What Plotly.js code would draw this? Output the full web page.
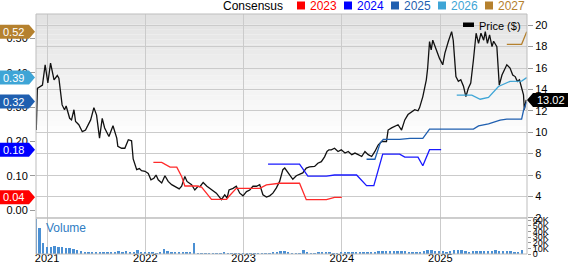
<!DOCTYPE html>
<html><head><meta charset="utf-8">
<script src="https://cdn.plot.ly/plotly-3.0.1.min.js"></script>
<style>html,body{margin:0;padding:0;background:#fff;}#chart{width:568px;height:264px;}</style>
</head><body><div id="chart"></div>
<script>
// ---------- DATA ----------
const priceDates = ['2020-11-22','2020-11-26','2020-12-15','2020-12-25','2021-01-04','2021-01-14','2021-01-27','2021-02-08','2021-02-14','2021-02-26','2021-03-07','2021-03-13','2021-03-26','2021-04-02','2021-04-11','2021-04-17','2021-04-29','2021-05-12','2021-05-24','2021-06-12','2021-06-24','2021-07-04','2021-07-15','2021-07-25','2021-08-03','2021-08-10','2021-08-19','2021-09-03','2021-09-17','2021-09-21','2021-10-05','2021-10-17','2021-10-30','2021-11-11','2021-11-17','2021-11-30','2021-12-10','2021-12-18','2021-12-31','2022-01-12','2022-01-22','2022-02-02','2022-02-10','2022-02-18','2022-03-03','2022-03-15','2022-03-27','2022-04-09','2022-04-21','2022-05-07','2022-05-16','2022-05-28','2022-06-05','2022-06-22','2022-07-04','2022-07-16','2022-07-23','2022-08-04','2022-08-18','2022-09-04','2022-09-22','2022-10-11','2022-10-23','2022-11-01','2022-11-08','2022-11-23','2022-12-05','2022-12-18','2022-12-30','2023-01-12','2023-01-24','2023-02-05','2023-02-18','2023-03-02','2023-03-14','2023-03-27','2023-04-08','2023-04-20','2023-05-03','2023-05-15','2023-05-27','2023-06-03','2023-06-15','2023-07-03','2023-07-16','2023-07-28','2023-08-09','2023-08-22','2023-09-03','2023-09-22','2023-10-04','2023-10-17','2023-10-29','2023-11-07','2023-11-14','2023-11-23','2023-12-05','2023-12-18','2023-12-30','2024-01-13','2024-01-25','2024-02-07','2024-02-19','2024-03-02','2024-03-15','2024-03-27','2024-04-08','2024-04-21','2024-05-03','2024-05-15','2024-05-28','2024-06-15','2024-06-21','2024-07-04','2024-07-16','2024-07-28','2024-08-10','2024-08-22','2024-09-03','2024-09-16','2024-09-28','2024-10-10','2024-10-16','2024-10-28','2024-11-10','2024-11-15','2024-11-22','2024-11-28','2024-12-04','2024-12-17','2024-12-29','2025-01-10','2025-01-18','2025-01-31','2025-02-12','2025-02-18','2025-02-28','2025-03-09','2025-03-18','2025-03-28','2025-04-06','2025-04-15','2025-04-24','2025-05-04','2025-05-14','2025-05-23','2025-06-01','2025-06-11','2025-06-17','2025-06-25','2025-07-03','2025-07-12','2025-07-18','2025-07-30','2025-08-08','2025-08-18','2025-08-26','2025-09-05','2025-09-17','2025-09-27','2025-10-06','2025-10-14','2025-10-22','2025-10-28','2025-11-06','2025-11-09','2025-11-16'];
const priceValues = [10.2,14.1,14.4,16.3,14.6,16.45,14.9,15.3,15.05,12.55,12.1,12.45,11.3,11.15,12.1,11.0,10.7,10.05,10.2,11.15,12.3,11.6,9.45,11.3,10.4,10.05,9.6,10.6,9.45,8.67,8.5,8.5,9.3,9.2,7.5,6.5,6.6,6.4,6.35,6.15,5.55,5.7,6.0,5.55,5.25,5.93,5.4,5.1,4.95,4.7,4.95,5.87,5.4,5.1,4.6,4.95,4.9,5.3,4.95,4.6,4.3,3.7,4.15,3.85,4.6,4.75,4.95,4.3,4.05,4.45,4.6,4.95,4.95,5.1,4.15,3.93,4.05,4.3,4.8,5.4,6.5,6.65,6.2,5.6,5.93,6.1,6.2,6.65,6.75,6.8,7.1,7.25,7.7,8.2,8.35,8.35,8.5,8.2,8.35,8.05,8.2,7.9,8.05,7.9,7.73,8.2,7.9,7.73,8.2,8.8,9.13,9.13,10.2,10.4,10.55,10.7,10.2,11.15,11.65,11.9,12.1,12.0,12.3,13.33,14.9,16.0,18.47,17.7,18.6,17.7,16.9,16.3,17.4,18.5,19.4,18.6,15.2,14.75,14.9,14.3,13.33,14.1,14.6,16.75,19.25,18.3,19.25,18.6,19.4,18.3,19.1,18.0,18.5,18.0,14.4,15.35,15.8,16.3,16.0,15.35,15.2,14.75,14.9,14.4,13.5,12.1,13.02];

const eps2023Dates = ['2022-01-31','2022-03-03','2022-04-03','2022-04-28','2022-05-16','2022-05-28','2022-07-11','2022-07-29','2022-09-04','2022-10-30','2022-11-08','2022-12-05','2023-03-02','2023-03-27','2023-05-15','2023-07-28','2023-08-22','2023-11-05','2023-12-05','2024-01-01'];
const eps2023Values = [0.139,0.139,0.125,0.125,0.098,0.07,0.07,0.067,0.031,0.031,0.04,0.063,0.063,0.073,0.078,0.078,0.03,0.03,0.037,0.037];
const eps2024Dates = ['2023-04-02','2023-07-28','2023-08-28','2023-11-05','2023-12-05','2024-02-25','2024-04-02','2024-04-29','2024-06-01','2024-08-03','2024-08-22','2024-10-10','2024-10-28','2024-11-22','2025-01-04'];
const eps2024Values = [0.134,0.134,0.099,0.099,0.102,0.102,0.071,0.071,0.163,0.163,0.154,0.154,0.129,0.176,0.176];
const eps2025Dates = ['2024-04-02','2024-05-03','2024-05-22','2024-06-03','2024-08-03','2024-09-10','2024-10-28','2024-11-22','2025-05-04','2025-05-23','2025-06-29','2025-08-11','2025-09-05','2025-10-30','2025-11-06','2025-11-18'];
const eps2025Values = [0.148,0.148,0.194,0.206,0.206,0.209,0.209,0.236,0.236,0.245,0.251,0.262,0.265,0.265,0.29,0.316];
const eps2026Dates = ['2025-03-03','2025-04-28','2025-05-29','2025-06-29','2025-08-05','2025-09-17','2025-10-30','2025-11-18'];
const eps2026Values = [0.335,0.335,0.323,0.328,0.36,0.375,0.376,0.386];
const eps2027Dates = ['2025-09-05','2025-10-30','2025-11-18'];
const eps2027Values = [0.483,0.483,0.52];

const consensusYears = ['2023','2024','2025','2026','2027'];
const consensusTags = ['0.04','0.18','0.32','0.39','0.52'];
const lastPriceLabel = '13.02';

// volume, thousands of shares, one bar per two weeks starting volStart
const volStart = '2020-11-20';
const volumeK = [62,46,20,13,12,14,12,13,11,10,9,7,5,4,3,3,4,3,4,3,3,4,5,4,5,3,4,8,3,4,3,3,2,3,9,5,3,3,3,3,3,4,20,2,1.5,1.5,1.5,2,1.5,2,3,2,1.5,1.5,1,1,1,1,1.5,1.5,1.5,2,2.5,3,4,5,6,4,2.5,2,2,7,3,2.5,2.5,3,3,3,3,2.5,2.5,3,3,4,3,3,3.5,3,3,3.5,4,5,6,6,5,6,5,5,5,4,4,4,4,6,8,7,6,5,5,4,5,7,8,7,5,4,5,6,5,6,5,6,7,6,5,6,5,4,4,8];

const yearTickDates = ['2021-01-01','2022-01-01','2023-01-01','2024-01-01','2025-01-01'];
const yearTickLabels = ['2021','2022','2023','2024','2025'];
const priceTicks = [2,4,6,8,10,12,14,16,18,20];
const epsTicks = [0,0.1,0.2,0.3,0.4,0.5];
const epsTickLabels = ['0.00','0.10','0.20','0.30','0.40','0.50'];
const volTicks = [0,10000,20000,30000,40000,50000,60000];
const volTickLabels = ['0','10K','20K','30K','40K','50K','60K'];

// ---------- STYLE ----------
const seriesColors = ['#ff2a2a','#1a1aff','#1f5fb0','#3ea5d6','#b5812e'];
const tagColors = ['#ff0000','#0000ff','#1f5fb0','#3ea5d6','#b5812e'];
const FONT = 'Liberation Sans, Arial, Helvetica, sans-serif';
const GRID = '#cbcbcb';
const PL = 36, PT = 14, PW = 491, PH = 240;
const fx = px => (px - PL) / PW;
const fy = py => (PT + PH - py) / PH;

const volDates = [];
const d0 = new Date(volStart + 'T00:00:00Z');
for (let i = 0; i < volumeK.length; i++) {
  const d = new Date(d0.getTime() + i * 14 * 86400000);
  volDates.push(d.toISOString().slice(0, 10));
}

const epsDates = [eps2023Dates, eps2024Dates, eps2025Dates, eps2026Dates, eps2027Dates];
const epsValues = [eps2023Values, eps2024Values, eps2025Values, eps2026Values, eps2027Values];

const traces = [];
epsDates.forEach((d, i) => {
  traces.push({x: d, y: epsValues[i], type: 'scatter', mode: 'lines', yaxis: 'y2', xaxis: 'x',
    line: {color: seriesColors[i], width: 1.3}, hoverinfo: 'skip', showlegend: false});
});
traces.push({x: priceDates, y: priceValues, type: 'scatter', mode: 'lines', yaxis: 'y', xaxis: 'x',
  line: {color: '#111', width: 1.3}, hoverinfo: 'skip', showlegend: false});
traces.push({x: volDates, y: volumeK.map(v => v * 1000), type: 'bar', yaxis: 'y3', xaxis: 'x',
  marker: {color: '#4a8fd3', line: {width: 0}}, width: 9 * 86400000, hoverinfo: 'skip', showlegend: false});

const shapes = [];
const annotations = [];
// gradient background in main panel
const N = 40;
for (let k = 0; k < N; k++) {
  const t = k / N;
  const t2 = Math.min(1, t / 0.6);
  const c = Math.round(226 + (255 - 226) * t2);
  const top = PT + (204 * k) / N, bot = PT + (204 * (k + 1)) / N;
  shapes.push({type: 'rect', xref: 'paper', yref: 'paper', x0: 0, x1: 1, y0: fy(bot), y1: fy(top),
    layer: 'below', line: {width: 0}, fillcolor: `rgb(${c},${c},${c})`});
}
// panel borders
shapes.push({type: 'rect', xref: 'paper', yref: 'paper', x0: 0, x1: 1, y0: fy(218), y1: 1, line: {color: '#bdbdbd', width: 1}, fillcolor: 'rgba(0,0,0,0)'});
shapes.push({type: 'rect', xref: 'paper', yref: 'paper', x0: 0, x1: 1, y0: 0, y1: fy(218), line: {color: '#bdbdbd', width: 1}, fillcolor: 'rgba(0,0,0,0)'});

// top legend
annotations.push({xref: 'paper', yref: 'paper', x: fx(221), y: fy(5.5), xanchor: 'left', yanchor: 'middle',
  text: 'Consensus', showarrow: false, font: {family: FONT, size: 12, color: '#000'}});
consensusYears.forEach((yr, i) => {
  const sx = 297 + i * 47;
  shapes.push({type: 'rect', xref: 'paper', yref: 'paper', x0: fx(sx), x1: fx(sx + 8), y0: fy(9.5), y1: fy(1.5),
    line: {width: 0}, fillcolor: tagColors[i]});
  annotations.push({xref: 'paper', yref: 'paper', x: fx(sx + 11), y: fy(5.5), xanchor: 'left', yanchor: 'middle',
    text: yr, showarrow: false, font: {family: FONT, size: 12, color: tagColors[i]}});
});
// price legend
shapes.push({type: 'rect', xref: 'paper', yref: 'paper', x0: fx(463), x1: fx(474), y0: fy(27), y1: fy(22.5), line: {width: 0}, fillcolor: '#000'});
annotations.push({xref: 'paper', yref: 'paper', x: fx(477), y: fy(25.5), xanchor: 'left', yanchor: 'middle',
  text: 'Price ($)', showarrow: false, font: {family: FONT, size: 11, color: '#000'}});
// volume label
annotations.push({xref: 'paper', yref: 'paper', x: fx(44), y: fy(228), xanchor: 'left', yanchor: 'middle',
  text: 'Volume', showarrow: false, font: {family: FONT, size: 12, color: '#2f7dc3'}});

// left consensus tags at last estimate of each year
epsValues.forEach((vals, i) => {
  const v = vals[vals.length - 1];
  shapes.push({type: 'path', xref: 'paper', yref: 'y2', xsizemode: 'pixel', ysizemode: 'pixel', xanchor: 0, yanchor: v,
    path: 'M -36,7 L -7,7 L -1,0 L -7,-7 L -36,-7 Z', fillcolor: tagColors[i], line: {width: 0}});
  annotations.push({xref: 'paper', yref: 'y2', x: 0, y: v, xanchor: 'right', yanchor: 'middle', xshift: -10,
    text: consensusTags[i], showarrow: false, font: {family: FONT, size: 11, color: '#fff'}});
});
// right price tag
const lastPrice = priceValues[priceValues.length - 1];
shapes.push({type: 'path', xref: 'paper', yref: 'y', xsizemode: 'pixel', ysizemode: 'pixel', xanchor: 1, yanchor: lastPrice,
  path: 'M 0,0 L 6,7 L 41,7 L 41,-7 L 6,-7 Z', fillcolor: '#000', line: {width: 0}});
annotations.push({xref: 'paper', yref: 'y', x: 1, y: lastPrice, xanchor: 'left', yanchor: 'middle', xshift: 8,
  text: lastPriceLabel, showarrow: false, font: {family: FONT, size: 11, color: '#fff'}});

const layout = {
  width: 568, height: 264,
  margin: {l: PL, r: 568 - PL - PW, t: PT, b: 264 - PT - PH, pad: 0},
  paper_bgcolor: '#fff', plot_bgcolor: 'rgba(0,0,0,0)',
  font: {family: FONT, size: 11, color: '#000'},
  showlegend: false, hovermode: false, bargap: 0,
  xaxis: {type: 'date', range: ['2020-11-21', '2025-11-19'], anchor: 'y3',
    tickvals: yearTickDates, ticktext: yearTickLabels, ticks: '', showgrid: true, gridcolor: GRID, gridwidth: 1,
    zeroline: false, showline: false, tickfont: {size: 11, color: '#000'}, ticklabelstandoff: -4},
  yaxis: {domain: [fy(218), 1], side: 'right', anchor: 'x', range: [1.98, 21.05],
    tickvals: priceTicks, ticks: 'outside', ticklen: 5, tickcolor: '#9a9a9a', showgrid: true, gridcolor: GRID,
    zeroline: false, showline: false, tickfont: {size: 11, color: '#000'}},
  yaxis2: {overlaying: 'y', side: 'left', anchor: 'x', range: [-0.0233, 0.5714],
    tickvals: epsTicks, ticktext: epsTickLabels, ticks: 'outside', ticklen: 5, tickcolor: '#9a9a9a',
    showgrid: false, zeroline: false, showline: false, tickfont: {size: 11, color: '#000'}},
  yaxis3: {domain: [0, fy(218)], side: 'right', anchor: 'x', range: [0, 64000],
    tickvals: volTicks, ticktext: volTickLabels, ticks: 'outside', ticklen: 3, tickcolor: '#9a9a9a',
    showgrid: false, zeroline: false, showline: false, tickfont: {size: 9, color: '#000'}},
  shapes: shapes, annotations: annotations
};

Plotly.newPlot('chart', traces, layout, {displayModeBar: false, staticPlot: true});
</script></body></html>
